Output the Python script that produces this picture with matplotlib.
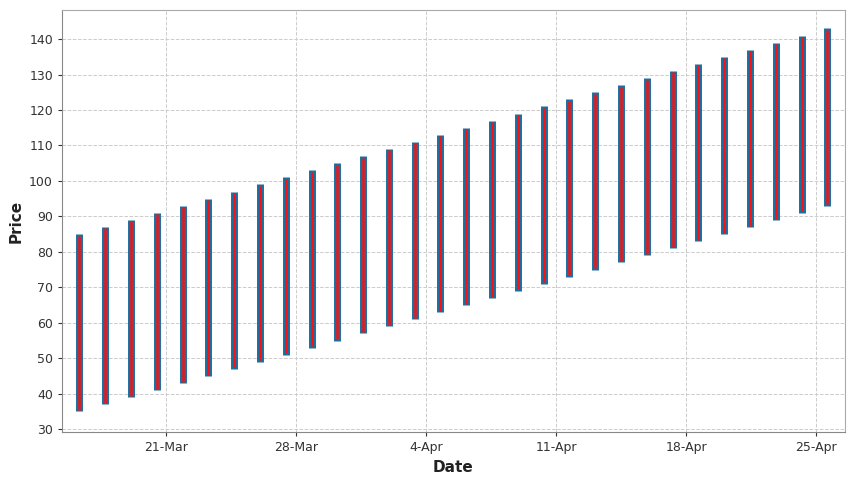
import matplotlib
matplotlib.use("Agg")
import matplotlib.pyplot as plt
import matplotlib.dates as mdates
import pandas as pd
import datetime as dt

dates = pd.date_range("2024-03-16 08:00", periods=30, freq="2000min")
lows = [35,37,39,41,43,45,47,49,51,53,55,57,59,61,63,65,67,69,71,73,75,77,79,81,83,85,87,89,91,93]
highs = [85,87,89,91,93,95,97,99,101,103,105,107,109,111,113,115,117,119,121,123,125,127,129,131,133,135,137,139,141,143]

fig = plt.figure(figsize=(8.54, 4.8), dpi=100)
ax = fig.add_axes([62/854, 48/480, 783/854, 422/480])
ax.vlines(dates, lows, highs, color="#1a6fa0", linewidth=5, capstyle="butt", zorder=3)
ax.vlines(dates, [l + 0.4 for l in lows], [h - 0.4 for h in highs], color="#ff1010", linewidth=1.8, zorder=4)

ax.set_xlim(dt.datetime(2024, 3, 15, 9, 30), dt.datetime(2024, 4, 26, 13, 30))
ax.set_ylim(29.2, 148.2)
ax.set_yticks(range(30, 141, 10))
ax.xaxis.set_major_locator(mdates.DayLocator(bymonthday=[4, 11, 18, 21, 25, 28]))
ticks = [dt.datetime(2024, 3, 21), dt.datetime(2024, 3, 28), dt.datetime(2024, 4, 4),
         dt.datetime(2024, 4, 11), dt.datetime(2024, 4, 18), dt.datetime(2024, 4, 25)]
ax.set_xticks(ticks)
ax.xaxis.set_major_formatter(mdates.DateFormatter("%-d-%b"))
ax.grid(True, color="#cccccc", linestyle="--", linewidth=0.7)
ax.set_axisbelow(True)
for s in ax.spines.values():
    s.set_color("#aaaaaa")
ax.spines["left"].set_color("#888888")
ax.spines["bottom"].set_color("#888888")
ax.tick_params(labelsize=9, colors="#333333", length=3)
ax.set_xlabel("Date", fontsize=11, fontweight="bold", color="#222222")
ax.set_ylabel("Price", fontsize=11, fontweight="bold", color="#222222")
fig.savefig("out.png", dpi=100)
